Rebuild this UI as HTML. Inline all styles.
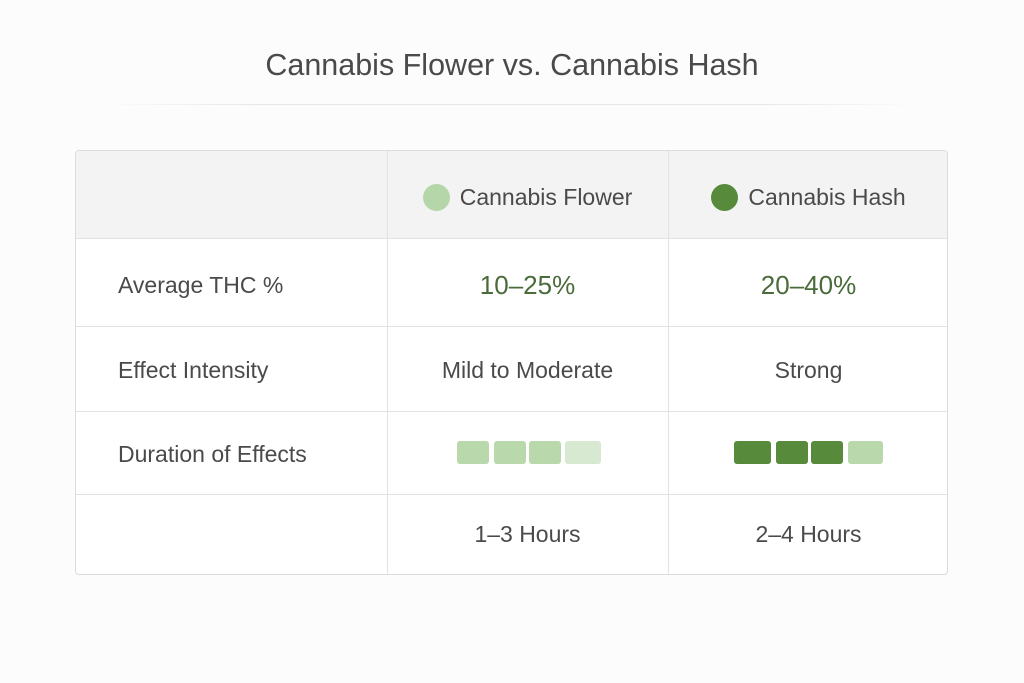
<!DOCTYPE html>
<html><head><style>
body{margin:0;width:1024px;height:683px;background:#fcfcfc;font-family:"Liberation Sans",sans-serif;position:relative;overflow:hidden}
.t{position:absolute;left:0;width:1024px;top:48px;text-align:center;font-size:30.5px;color:#4a4a4a}
.hr{position:absolute;left:100px;width:820px;top:104px;height:1px;background:linear-gradient(90deg,transparent,#e6e6e6 20%,#e6e6e6 80%,transparent)}
.tb{position:absolute;left:75px;top:150px;width:873px;height:425px;border:1px solid #dcdcdc;border-radius:4px;background:#fff;box-sizing:border-box;overflow:hidden}
.c{position:absolute;display:flex;align-items:center;justify-content:center;font-size:23px;color:#4a4a4a;box-sizing:border-box}
.l{justify-content:flex-start;padding-left:42px}
.hl{position:absolute;left:0;width:873px;height:1px;background:#e2e2e2}
.vl{position:absolute;top:0;height:425px;width:1px;background:#e2e2e2}
.dot{width:27px;height:27px;border-radius:50%;display:inline-block;margin-right:10px}
.g{color:#4a6b3a;font-size:26px}
.s{position:absolute;height:23px;border-radius:3px}
</style></head><body>
<div class="t">Cannabis Flower vs. Cannabis Hash</div>
<div class="hr"></div>
<div class="tb">
<div style="position:absolute;left:0;top:0;width:873px;height:87px;background:#f3f3f3"></div>
<div class="hl" style="top:87px"></div><div class="hl" style="top:175px"></div><div class="hl" style="top:260px"></div><div class="hl" style="top:343px"></div>
<div class="vl" style="left:311px"></div><div class="vl" style="left:592px"></div>
<div class="c" style="left:311px;width:281px;top:3px;height:87px"><span class="dot" style="background:#b5d6a8"></span>Cannabis Flower</div>
<div class="c" style="left:592px;width:281px;top:3px;height:87px"><span class="dot" style="background:#578a3b"></span>Cannabis Hash</div>
<div class="c l" style="left:0;width:311px;top:90px;height:88px">Average THC %</div>
<div class="c g" style="left:311px;width:281px;top:90px;height:88px">10–25%</div>
<div class="c g" style="left:592px;width:281px;top:90px;height:88px">20–40%</div>
<div class="c l" style="left:0;width:311px;top:177px;height:85px">Effect Intensity</div>
<div class="c" style="left:311px;width:281px;top:177px;height:85px">Mild to Moderate</div>
<div class="c" style="left:592px;width:281px;top:177px;height:85px">Strong</div>
<div class="c l" style="left:0;width:311px;top:262px;height:83px">Duration of Effects</div>
<div class="c" style="left:311px;width:281px;top:342px;height:82px">1–3 Hours</div>
<div class="c" style="left:592px;width:281px;top:342px;height:82px">2–4 Hours</div>
<div class="s" style="left:381px;top:290px;width:32px;background:#b9d9ad"></div>
<div class="s" style="left:418px;top:290px;width:32px;background:#b9d9ad"></div>
<div class="s" style="left:453px;top:290px;width:32px;background:#b9d9ad"></div>
<div class="s" style="left:489px;top:290px;width:36px;background:#d8e9d1"></div>
<div class="s" style="left:658px;top:290px;width:37px;background:#578a3b"></div>
<div class="s" style="left:700px;top:290px;width:32px;background:#578a3b"></div>
<div class="s" style="left:735px;top:290px;width:32px;background:#578a3b"></div>
<div class="s" style="left:772px;top:290px;width:35px;background:#b9d9ad"></div>
</div>
</body></html>
